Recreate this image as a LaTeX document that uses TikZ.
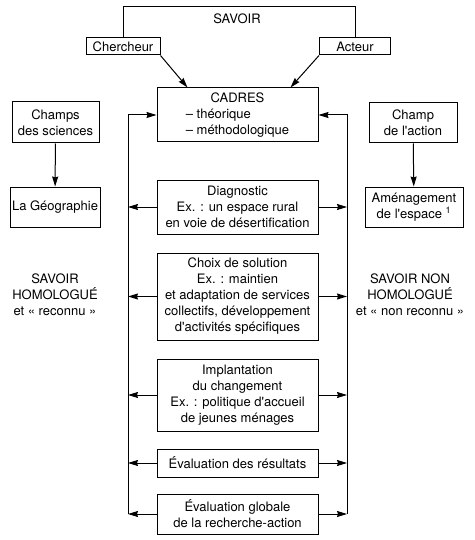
\documentclass[tikz,border=0pt]{standalone}
\usepackage{fontspec}
\setmainfont{TeX Gyre Heros}
\usepackage{calc}
\usepackage{tikz}
\usetikzlibrary{arrows.meta,positioning,calc}

\newcommand{\apos}{\textquotesingle}

\begin{document}
\begin{tikzpicture}[
  x=1pt, y=-1pt,
  every node/.style={font=\fontsize{13}{16}\selectfont},
  stage/.style={rectangle, draw, line width=1pt, minimum width=161pt, align=center, inner sep=1pt},
  side/.style={rectangle, draw, line width=1pt, align=center, inner sep=1pt},
  arrow/.style={-{Stealth[length=10pt,width=6pt,inset=1pt]}, line width=1pt},
  link/.style={line width=1pt}
]
\useasboundingbox (0,0) rectangle (474,540);

% Top: actors of knowledge
\node (savoir) at (237,19) {SAVOIR};
\node[side, minimum width=74pt, minimum height=17pt] (cherch) at (123,46.5) {Chercheur};
\node[side, minimum width=71pt, minimum height=17pt] (acteur) at (355,46.5) {Acteur};
\draw[link] (cherch.north) -- (123,7) -- (355,7) -- (acteur.north);

% Stage boxes
\node[stage, minimum height=54pt] (cadres) at (237.5,115) {CADRES\\\makebox[\widthof{-- méthodologique}][l]{-- théorique}\\-- méthodologique};
\node[stage, minimum height=54pt] (diag) at (237.5,207) {Diagnostic\\Ex. : un espace rural\\en voie de désertification};
\node[stage, minimum height=87pt] (choix) at (237.5,296.5) {Choix de solution\\Ex. : maintien\\et adaptation de services\\collectifs, développement\\d\apos activités spécifiques};
\node[stage, minimum height=72pt] (implant) at (237.5,395) {Implantation\\du changement\\Ex. : politique d\apos accueil\\de jeunes ménages};
\node[stage, minimum height=28pt] (evalr) at (237.5,463) {Évaluation des résultats};
\node[stage, minimum height=40pt] (evalg) at (237.5,514) {Évaluation globale\\de la recherche-action};

% Side fields
\node[side, minimum width=87pt, minimum height=41pt] (champsc) at (55.5,122.5) {Champs\\des sciences};
\node[side, minimum width=90pt, minimum height=40pt] (geo) at (55,207) {La Géographie};
\node[side, minimum width=88pt, minimum height=40pt] (champac) at (413,123) {Champ\\de l\apos action};
\node[side, minimum width=98pt, minimum height=40pt] (amenag) at (414,207) {Aménagement\\de l\apos espace \textsuperscript{1}};

\node[align=center] (homol) at (55,295) {SAVOIR\\HOMOLOGUÉ\\et « reconnu »};
\node[align=center] (nonhomol) at (410,295) {SAVOIR NON\\HOMOLOGUÉ\\et « non reconnu »};

% Arrows into the frame
\draw[arrow] (cherch.south east) -- ([xshift=31pt]cadres.north west);
\draw[arrow] (acteur.south west) -- ([xshift=-28pt]cadres.north east);
\draw[arrow] (champsc) -- (geo);
\draw[arrow] (champac) -- (amenag);

% Feedback loops
\coordinate (lx) at (128,0);
\coordinate (rx) at (347,0);
\draw[arrow] (evalg.west -| lx) |- (cadres.west);
\draw[arrow] (evalg.east -| rx) |- (cadres.east);
\foreach \n in {diag,choix,implant,evalr,evalg}{
  \draw[arrow] (\n.west) -- (\n.west -| lx);
  \draw[arrow] (\n.east) -- (\n.east -| rx);
}

\end{tikzpicture}
\end{document}
